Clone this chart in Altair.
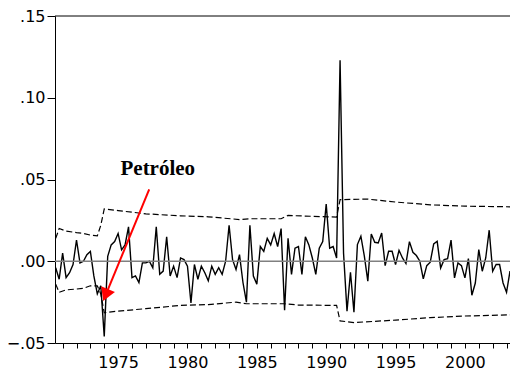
import altair as alt
import pandas as pd

# ---- data ----
start_year = 1970.5  # first quarterly observation (1970Q3)
resid = [
    -0.004, -0.011, 0.005, -0.010, -0.007, -0.002, 0.013, -0.001, 0.000, 0.004,
    0.006, -0.009, -0.020, -0.015, -0.046, 0.003, 0.010, 0.012, 0.017, 0.007,
    0.010, 0.021, -0.010, -0.009, -0.013, -0.001, -0.001, 0.000, -0.004, 0.021,
    -0.008, -0.006, 0.015, -0.009, -0.003, -0.010, 0.002, 0.001, -0.003, -0.0255,
    -0.002, -0.011, -0.003, -0.007, -0.012, -0.003, -0.008, -0.004, -0.008, 0.000,
    0.022, 0.001, -0.005, 0.004, -0.013, -0.025, 0.022, -0.009, -0.014, 0.009,
    0.006, 0.014, 0.010, 0.017, 0.009, 0.020, -0.030, 0.014, -0.008, 0.008,
    0.009, -0.008, 0.015, 0.010, 0.002, -0.008, 0.008, 0.012, 0.035, 0.008,
    0.009, 0.002, 0.123, 0.005, -0.0306, -0.0067, -0.0312, 0.0102, 0.0153, 0.0031,
    -0.0122, 0.0167, 0.0116, 0.0112, 0.0173, -0.0027, 0.0061, 0.0061, -0.0020, 0.0067,
    0.0020, -0.0014, 0.0120, 0.0055, 0.0035, 0.0000, -0.0108, -0.0027, -0.0006, 0.0106,
    0.0122, -0.0041, 0.0010, 0.0016, 0.0129, -0.0102, -0.0010, -0.0027, -0.0102, 0.0016,
    -0.0208, -0.0133, 0.0071, -0.0061, 0.0020, 0.0190, -0.0061, -0.0020, -0.0020, -0.0133,
    -0.0190, -0.0060,
]

upper_t = [1970.5, 1970.75, 1971.25, 1972.0, 1972.5, 1973.0, 1973.5, 1973.75, 1974.0,
           1975.0, 1977.0, 1979.5, 1981.5, 1983.75, 1984.5, 1986.75, 1987.25, 1990.75,
           1991.0, 1993.0, 1995.0, 1997.5, 2000.0, 2003.25]
upper_v = [0.014, 0.020, 0.0185, 0.0175, 0.017, 0.016, 0.0155, 0.022, 0.032,
           0.031, 0.029, 0.0278, 0.0272, 0.0255, 0.026, 0.026, 0.028, 0.027,
           0.0377, 0.038, 0.0362, 0.0345, 0.0337, 0.0333]

lower_t = [1970.5, 1970.75, 1971.25, 1972.0, 1972.5, 1973.0, 1973.5, 1973.75, 1974.0,
           1975.0, 1977.0, 1979.5, 1981.5, 1983.5, 1984.25, 1987.0, 1988.0, 1990.75,
           1991.0, 1992.0, 1995.0, 1997.5, 2000.0, 2003.25]
lower_v = [-0.014, -0.019, -0.0175, -0.017, -0.0165, -0.015, -0.015, -0.020, -0.0315,
           -0.0305, -0.029, -0.027, -0.0265, -0.025, -0.026, -0.026, -0.0268, -0.027,
           -0.0365, -0.0375, -0.036, -0.0345, -0.0335, -0.0328]

x_tick_years = list(range(1971, 2004))
y_ticks = [-0.05, 0.0, 0.05, 0.10, 0.15]
x_domain = [1970.45, 2003.25]
y_domain = [-0.05, 0.15]

label_text = ["Petróleo"]
label_year = [1977.86]
label_value = [0.053]

arrow_year = [1977.24]
arrow_value = [0.044]
arrow_end_year = [1974.10]
arrow_end_value = [-0.0207]

# ---- tables ----
df_res = pd.DataFrame({"year": [start_year + 0.25 * i for i in range(len(resid))],
                       "value": resid})
df_band = pd.concat([
    pd.DataFrame({"year": upper_t, "value": upper_v, "band": "upper"}),
    pd.DataFrame({"year": lower_t, "value": lower_v, "band": "lower"}),
])
df_label = pd.DataFrame({"year": label_year, "value": label_value, "text": label_text})
df_arrow = pd.DataFrame({"year": arrow_year, "value": arrow_value,
                         "year2": arrow_end_year, "value2": arrow_end_value})

FONT = "DejaVu Sans"

x_enc = alt.X("year:Q",
              scale=alt.Scale(domain=x_domain, nice=False, zero=False),
              axis=alt.Axis(values=x_tick_years, tickCount=200, format="d",
                            labelExpr="datum.value % 5 == 0 ? datum.label : ''",
                            labelOverlap=False, labelFlush=False,
                            tickSize=5, labelPadding=6, grid=False,
                            domainColor="black", tickColor="black",
                            labelColor="black", labelFont=FONT, labelFontSize=16,
                            title=None))
y_enc = alt.Y("value:Q",
              scale=alt.Scale(domain=y_domain, nice=False, zero=False),
              axis=alt.Axis(values=y_ticks, tickCount=50,
                            labelExpr="replace(format(datum.value, '.2f'), '0.', '.')",
                            tickSize=8, labelPadding=2, grid=False,
                            domainColor="black", tickColor="black",
                            labelColor="black", labelFont=FONT, labelFontSize=16,
                            title=None))

zero_line = alt.Chart().mark_rule(color="#808080", strokeWidth=1.5).encode(
    y=alt.datum(0, scale=alt.Scale(domain=y_domain, nice=False, zero=False)))
top_line = alt.Chart().mark_rule(color="black", strokeWidth=1).encode(
    y=alt.datum(y_domain[1]))

bands = alt.Chart(df_band).mark_line(color="black", strokeWidth=1.2,
                                     strokeDash=[6, 3]).encode(
    x=x_enc, y=y_enc, detail="band:N")

series = alt.Chart(df_res).mark_line(color="black", strokeWidth=1.4).encode(
    x=x_enc, y=y_enc)

arrow_line = alt.Chart(df_arrow).mark_rule(color="#FF0000", strokeWidth=2).encode(
    x=x_enc, y=y_enc, x2="year2:Q", y2="value2:Q")
arrow_head = alt.Chart(df_arrow).mark_point(shape="triangle-up", filled=True,
                                            opacity=1, size=220, angle=202,
                                            color="#FF0000").encode(
    x=alt.X("year2:Q", scale=alt.Scale(domain=x_domain, nice=False, zero=False)),
    y=alt.Y("value2:Q", scale=alt.Scale(domain=y_domain, nice=False, zero=False)))

label = alt.Chart(df_label).mark_text(font="Liberation Serif", fontWeight="bold",
                                      fontSize=21, align="center",
                                      baseline="alphabetic", color="black").encode(
    x=x_enc, y=y_enc, text="text:N")

chart = alt.layer(series, bands, zero_line, top_line, arrow_line, arrow_head, label).properties(
    width=455, height=327,
    autosize=alt.AutoSizeParams(type="none"),
    padding={"left": 55, "top": 16, "right": 0, "bottom": 32},
    background="white",
).configure_view(stroke=None)

chart.save("out.html", embed_options={"renderer": "svg", "actions": False})
